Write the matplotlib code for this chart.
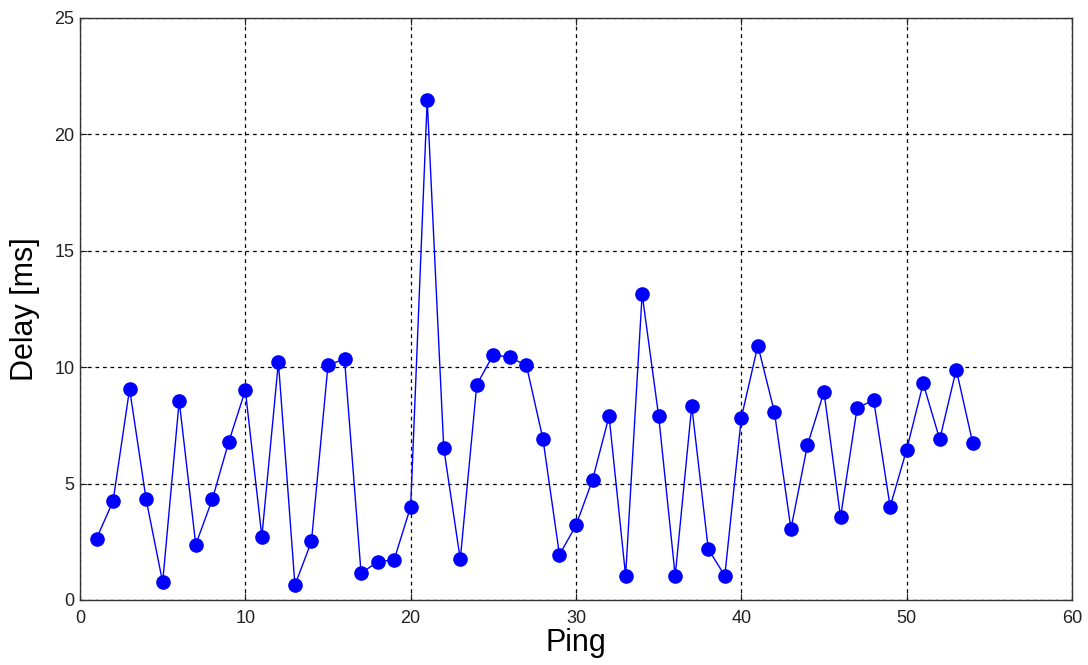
import matplotlib
matplotlib.use("Agg")
import matplotlib.pyplot as plt

ping = list(range(1, 55))
delay_ms = [2.64, 4.25, 9.07, 4.32, 0.76, 8.56, 2.38, 4.32, 6.80, 9.01,
            2.72, 10.22, 0.64, 2.52, 10.09, 10.35, 1.15, 1.64, 1.73, 4.01,
            21.49, 6.53, 1.74, 9.25, 10.54, 10.42, 10.08, 6.92, 1.94, 3.21,
            5.16, 7.90, 1.04, 13.14, 7.90, 1.04, 8.34, 2.19, 1.04, 7.83,
            10.93, 8.08, 3.05, 6.66, 8.94, 3.56, 8.23, 8.60, 4.01, 6.46,
            9.30, 6.90, 9.90, 6.73]
xticks = [0, 10, 20, 30, 40, 50, 60]
yticks = [0, 5, 10, 15, 20, 25]

plt.rcParams['font.family'] = ['Liberation Sans', 'DejaVu Sans']

fig = plt.figure(figsize=(10.88, 6.65), dpi=100)
ax = fig.add_axes([80/1088, 65/665, (1072-80)/1088, (600-18)/665])

ax.plot(ping, delay_ms, color='#0000ff', lw=1.0, marker='o', markersize=9.5,
        markerfacecolor='#0000ff', markeredgecolor='#0000ff', zorder=3)

ax.set_xlim(0, 60)
ax.set_ylim(0, 25)
ax.set_xticks(xticks)
ax.set_yticks(yticks)
ax.tick_params(direction='in', length=5, width=0.8, labelsize=13,
               top=True, right=True, colors='#222222', labelcolor='#222222')
ax.tick_params(axis='x', pad=7)
ax.tick_params(axis='y', pad=4)
ax.grid(True, color='black', linestyle=(0, (3, 3)), linewidth=0.9)
for s in ax.spines.values():
    s.set_linewidth(1.0)
    s.set_color('#333333')

ax.set_xlabel('Ping', fontsize=22, labelpad=1)
ax.set_ylabel('Delay [ms]', fontsize=22, labelpad=10)

fig.savefig('out.png', dpi=100)
